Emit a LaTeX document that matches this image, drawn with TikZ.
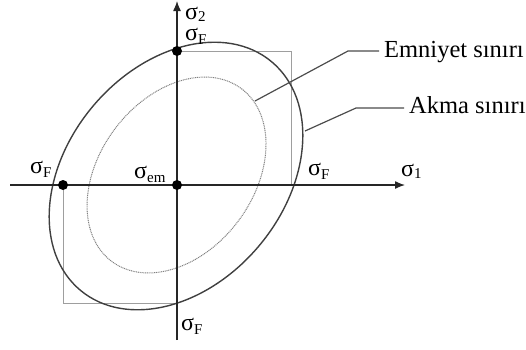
\documentclass[tikz,border=0pt]{standalone}
\usepackage{fontspec}
\setmainfont{Liberation Serif}
\usetikzlibrary{arrows.meta}
\newcommand\sigsub[1]{σ\raisebox{-4pt}{\fontsize{15}{15}\selectfont #1}}
\newcommand\sigidx[1]{σ\raisebox{-2.5pt}{\fontsize{15}{15}\selectfont #1}}
\begin{document}
\begin{tikzpicture}[x=1pt,y=-1pt,
  axis/.style={line width=1.3pt, draw=black!85, -{Latex[length=10pt,width=8pt]}},
  yieldcurve/.style={line width=1.4pt, draw=black!75},
  safecurve/.style={line width=1pt, draw=black!50, dash pattern=on 1pt off 0.8pt},
  tresca/.style={line width=1pt, draw=black!38},
  leader/.style={line width=1.2pt, draw=black!70},
  dotmark/.style={circle, fill=black, inner sep=0pt, minimum size=10pt},
  sig/.style={font=\fontsize{24}{26}\selectfont, inner sep=0pt, anchor=base west, text height=11pt, text depth=5pt},
  lbl/.style={font=\fontsize{24.5}{26}\selectfont, inner sep=0pt, anchor=base west}]
\useasboundingbox (0,0) rectangle (526,349);
% Tresca corners
\coordinate (ta) at (177,51);
\coordinate (tb) at (291,51);
\coordinate (tc) at (291,185);
\coordinate (td) at (63,185);
\coordinate (te) at (63,303);
\coordinate (tf) at (177,303);
\draw[tresca] (ta) -- (tb) -- (tc);
\draw[tresca] (td) -- (te) -- (tf);
% ellipses
\coordinate (oc) at (176,176);
\coordinate (ic) at (176.5,175);
\draw[yieldcurve, rotate around={50:(oc)}] (oc) ellipse (149 and 108.5);
\draw[safecurve, rotate around={53:(ic)}] (ic) ellipse (108 and 77);
% axes
\coordinate (xs) at (10,185);
\coordinate (xe) at (405,185);
\coordinate (ys) at (177,340);
\coordinate (ye) at (177,1);
\draw[axis] (xs) -- (xe);
\draw[axis] (ys) -- (ye);
% dots
\node[dotmark] (dtop) at (177,51) {};
\node[dotmark] (dleft) at (63,185) {};
\node[dotmark] (dorig) at (177,185) {};
% sigma labels
\node[sig] (s2) at (185,19) {\sigidx{2}};
\node[sig] (sft) at (185,40) {\sigsub{F}};
\node[sig] (sfl) at (30,173) {\sigsub{F}};
\node[sig] (sem) at (134,178) {\sigsub{em}};
\node[sig] (sfr) at (308,175) {\sigsub{F}};
\node[sig] (s1) at (401,176) {\sigidx{1}};
\node[sig] (sfb) at (181,330) {\sigsub{F}};
% leader labels
\node[lbl] (emn) at (384,57) {Emniyet sınırı};
\node[lbl] (akm) at (409,113) {Akma sınırı};
\coordinate (le1) at (255,101);
\coordinate (le2) at (348,51);
\coordinate (le3) at (379,51);
\coordinate (la1) at (305,131);
\coordinate (la2) at (356,108);
\coordinate (la3) at (404,108);
\draw[leader] (le1) -- (le2) -- (le3);
\draw[leader] (la1) -- (la2) -- (la3);
\end{tikzpicture}
\end{document}
